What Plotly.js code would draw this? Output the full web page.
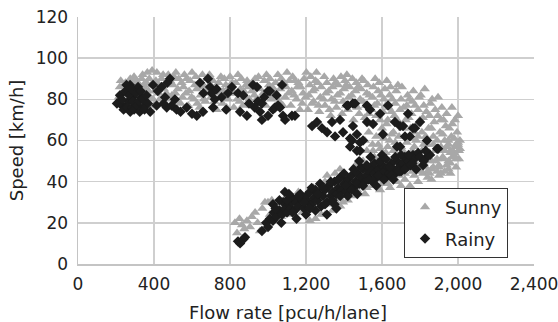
<!DOCTYPE html>
<html>
<head>
<meta charset="utf-8">
<script src="https://cdn.plot.ly/plotly-3.0.1.min.js"></script>
<style>html,body{margin:0;padding:0;background:#fff;}#chart{width:558px;height:322px;}</style>
</head>
<body>
<div id="chart"></div>
<script>
// [flow rate (pcu/h/lane), speed (km/h)]
const sunnyPoints = [
[215,81],[220,86],[225,89],[240,78],[245,84],[250,88],[265,82],[270,85],[275,90],[285,77],[290,86],[295,91],[305,80],[310,84],[315,88],[325,76],[330,83],[335,90],[340,92],[350,79],[355,85],[360,88],[365,93],[380,81],[385,87],[390,94],[400,77],[405,84],[410,89],[415,93],[430,80],[435,86],[440,90],[460,78],[465,83],[470,88],[475,92],[490,76],[495,82],[500,87],[505,91],[520,79],[525,85],[530,90],[550,81],[555,86],[560,92],[580,77],[585,84],[590,89],[610,80],[615,87],[620,91],[640,76],[645,82],[650,88],[655,92],[670,79],[675,85],[680,90],[700,81],[705,86],[710,89],[730,75],[735,83],[740,88],[760,78],[765,84],[770,90],[790,80],[795,86],[800,91],[820,76],[825,83],[830,88],[850,79],[855,85],[860,90],[880,81],[885,87],[890,89],[910,77],[915,84],[920,88],[940,80],[945,86],[950,91],[970,78],[975,83],[980,89],[1000,82],[1005,87],[1010,90],[1030,76],[1035,84],[1040,88],[1060,79],[1065,85],[1070,90],[1090,81],[1095,86],[1100,93],
[232,83],[258,87],[262,79],[282,83],[300,89],[318,81],[345,87],[372,84],[375,90],[395,80],[422,87],[425,83],[448,92],[452,85],[480,80],[485,89],[512,83],[515,93],[540,78],[545,88],[568,83],[572,90],[598,81],[600,93],[625,85],[628,78],[660,86],[662,80],[690,83],[692,92],[718,79],[720,85],[748,81],[752,91],[778,87],[782,76],[808,83],[812,88],[838,80],[842,92],[868,77],[872,84],[898,86],[902,80],[928,82],[932,90],[958,85],[962,80],[988,77],[992,92],[1018,80],[1022,86],[1048,82],[1052,92],[1078,77],[1082,88],[1108,83],[1112,89],
[1120,77],[1125,84],[1130,91],[1150,80],[1155,86],[1160,88],[1180,78],[1185,83],[1190,90],[1210,75],[1215,82],[1220,87],[1225,91],[1240,79],[1245,85],[1250,89],[1255,93],[1270,74],[1275,81],[1280,86],[1300,77],[1305,83],[1310,88],[1330,72],[1335,80],[1340,86],[1345,90],[1360,76],[1365,82],[1370,87],[1390,73],[1395,79],[1400,85],[1405,89],[1415,92],[1420,75],[1425,81],[1430,86],[1450,70],[1455,78],[1460,84],[1465,88],[1480,73],[1485,80],[1490,85],[1495,90],[1510,71],[1515,77],[1520,83],[1525,87],[1540,68],[1545,75],[1550,81],[1555,86],[1570,72],[1575,78],[1580,84],[1585,88],[1600,66],[1605,74],[1610,80],[1615,85],[1625,89],[1630,70],[1635,76],[1640,82],[1645,86],[1660,64],[1665,72],[1670,78],[1675,84],[1690,68],[1695,75],[1700,80],[1705,86],[1720,62],[1725,70],[1730,77],[1735,82],[1750,66],[1755,73],[1760,79],[1765,84],[1780,60],[1785,68],[1790,75],[1795,81],[1810,64],[1815,71],[1820,77],[1825,85],[1840,58],[1845,66],[1850,72],[1855,78],[1870,62],[1875,69],[1880,75],[1895,81],[1900,56],[1905,64],[1910,70],[1915,76],[1930,60],[1935,67],[1940,73],[1960,54],[1965,62],[1968,76],[1970,68],[1990,58],[1995,64],[2000,72],[2005,55],[2010,60],
[1138,82],[1142,89],[1168,75],[1172,86],[1198,81],[1202,93],[1232,78],[1236,84],[1262,88],[1266,77],[1292,80],[1296,91],[1320,84],[1324,75],[1352,79],[1356,88],[1380,83],[1384,91],[1410,77],[1412,87],[1440,82],[1444,90],[1470,76],[1474,86],[1500,79],[1504,89],[1530,73],[1534,82],[1560,77],[1564,90],[1590,70],[1594,82],[1620,77],[1624,68],[1650,74],[1654,80],[1680,70],[1684,87],[1710,66],[1714,76],[1740,71],[1744,80],[1770,64],[1774,77],[1800,70],[1804,82],[1830,62],[1834,74],[1860,66],[1864,80],[1890,60],[1894,72],[1920,63],[1924,70],[1950,58],[1954,66],[1980,61],[1984,70],
[1500,50],[1520,55],[1540,45],[1560,52],[1580,58],[1600,48],[1620,54],[1640,60],[1660,46],[1680,52],[1700,57],[1720,44],[1740,50],[1760,55],[1780,47],[1800,53],[1820,58],[1840,45],[1860,50],[1880,55],[1900,47],[1920,52],[1940,57],[1960,49],[1980,54],[2000,58],[1990,51],[1950,46],[1910,44],
[1510,60],[1530,64],[1550,58],[1570,62],[1590,56],[1610,61],[1630,57],[1650,63],[1670,59],[1690,62],[1710,55],[1730,59],[1750,61],[1770,57],[1790,62],[1810,55],[1830,60],[1850,54],[1870,58],[1890,51],[1910,57],[1930,55],[1950,60],[1970,52],[1985,57],[1700,50],[1740,46],[1780,52],[1820,49],[1860,46],[1900,43],[1940,48],[1960,44],[1990,47],[2005,51],[1640,50],[1600,44],[1660,55],[1720,47],
[826,20],[837,15],[863,19],[889,21],[905,18],[932,25],[958,16],[984,30],[995,18],[1000,30],[1037,26],[1050,22],[1080,28],[1100,24],[1126,31],[1140,27],[1168,33],[1180,25],[1200,29],[1220,21],[1230,34],[1250,27],[1270,31],[1290,38],[1311,43],[1320,29],[1340,35],[1353,44],[1370,32],[1379,46],[1395,30],[1410,38],[1420,42],[1440,33],[1460,48],[1470,36],[1490,40],[1510,34],[1530,44],[1550,38],[1553,55],[1570,41],[1590,36],[1610,43],[1630,39],[1642,37],[1660,42],[1680,40],[1700,38],[1720,41],[1747,38],[1770,43],[1790,40],[1816,44],[1840,42],[1870,47],[1900,48],[1921,51],[1950,50],[1974,54],[2000,59],[1985,52],[1930,45],[1860,41],
[1250,22],[1300,24],[1340,26],[1380,28],[1420,31],
[850,22],[875,17],[915,23],[945,20],[970,27],[1010,24],[1020,31],[1060,29],[1070,23],[1090,32],[1110,27],[1150,29],[1160,35],[1190,31],[1210,26],[1240,37],[1260,30],[1280,24],[1300,40],[1330,37],[1360,30],[1390,41],[1400,33],[1430,36],[1450,44],[1480,38],[1500,42],[1520,37],[1540,47],[1560,40],[1580,45],[1600,39],[1620,47],[1650,44],[1670,49],[1690,43],[1710,45],[1730,50],[1760,45],[1780,49],[1800,45],[1830,47],[1850,44],[1880,50],[1890,45],[1960,55],[2010,56]
];
const rainyPoints = [
[205,78],[221,82],[231,77],[247,76],[264,79],[274,87],[288,81],[300,77],[316,86],[335,81],[342,76],[368,78],[395,87],[414,77],[440,86],[458,81],[467,76],[484,90],[493,77],[519,75],[572,76],[625,72],[642,88],[658,74],[684,90],[695,86],[703,83],[711,76],[730,85],[756,81],[789,83],[842,83],[853,74],[889,72],[921,87],[942,86],[947,79],[958,74],[968,78],[968,70],[1000,84],[1000,72],[1010,84],[1026,75],[1037,76],[1053,77],[1063,76],[1074,87],[1079,72],[1090,70],[1126,72],[1142,72],
[230,80],[240,75],[250,84],[255,87],[260,76],[270,82],[275,74],[280,85],[285,76],[290,79],[295,75],[305,83],[310,77],[320,79],[325,74],[330,84],[340,80],[350,75],[360,82],[380,74],[420,84],[450,78],[470,88],[510,80],[540,74],[600,73],[660,83],[720,80],[780,75],[810,86],[870,82],[900,78],[930,76],[980,81],[1045,82],
[1232,67],[1258,69],[1284,66],[1311,64],[1337,69],[1353,62],[1379,70],[1395,64],[1416,77],[1421,77],[1432,57],[1432,61],[1442,60],[1447,78],[1447,67],[1458,78],[1468,63],[1468,55],[1484,55],[1484,59],[1500,60],[1521,77],[1521,69],[1537,75],[1553,68],[1590,73],[1605,63],[1632,77],[1668,69],[1679,57],[1695,67],[1695,57],[1711,67],[1721,62],[1721,50],[1737,73],[1747,62],[1763,66],[1763,53],[1774,66],[1800,69],[1816,48],[1826,51],[1837,60],[1890,56],[1895,56],
[842,11],[853,10],[870,12],[879,13],[968,16],[990,20],[1010,22],[1026,21],[1026,29],[1030,25],[1045,23],[1060,26],[1075,24],[1080,30],[1089,35],[1090,27],[1100,25],[1110,29],[1120,27],[1126,30],[1130,32],[1140,26],[1150,30],[1160,28],[1170,34],[1180,31],[1190,27],[1200,33],[1210,30],[1220,35],[1230,29],[1240,32],[1250,36],[1260,31],[1270,34],[1274,39],[1280,28],[1290,33],[1300,36],[1310,30],[1320,38],[1330,33],[1340,35],[1350,40],[1360,34],[1370,37],[1380,42],[1390,36],[1400,39],[1410,35],[1420,41],[1430,38],[1440,43],[1450,37],[1460,40],[1470,44],[1480,39],[1490,42],[1500,46],[1510,40],[1520,43],[1530,45],[1540,41],[1550,47],[1560,44],[1570,42],[1580,46],[1590,43],[1600,48],[1610,45],[1620,42],[1630,47],[1640,44],[1650,49],[1660,46],[1670,44],[1680,50],[1690,47],[1700,45],[1710,49],[1720,52],[1730,47],[1740,50],[1750,48],[1770,51],[1790,54],[1853,53],[1310,24],[1250,26],[1200,24],[1150,22],[1350,29],[1420,33],[1110,34],[1060,31],[1480,50],[1540,52],[1600,53],
[1000,18],[1040,27],[1070,20],[1100,31],[1130,25],[1160,33],[1190,30],[1220,27],[1230,37],[1260,34],[1290,37],[1300,29],[1330,40],[1340,31],[1370,41],[1380,33],[1400,44],[1410,38],[1440,36],[1450,46],[1470,39],[1490,47],[1500,38],[1520,48],[1530,41],[1550,40],[1560,49],[1580,43],[1590,50],[1610,41],[1620,51],[1640,47],[1650,43],[1670,52],[1690,45],[1700,53],[1720,46],[1740,53],[1760,49],[1780,46],[1800,52],[1820,50],[1830,55],[1660,41],[1570,38],[1470,34],[1360,27]
];
const xTicks = [0, 400, 800, 1200, 1600, 2000, 2400];
const xTickLabels = ['0', '400', '800', '1,200', '1,600', '2,000', '2,400'];
const yTicks = [0, 20, 40, 60, 80, 100, 120];
const xTitle = 'Flow rate [pcu/h/lane]';
const yTitle = 'Speed [km/h]';

const FONT = 'DejaVu Sans, Verdana, sans-serif';
const traces = [
  {
    name: 'Sunny', type: 'scatter', mode: 'markers', legendgroup: 's',
    x: sunnyPoints.map(p => p[0]), y: sunnyPoints.map(p => p[1]),
    marker: {symbol: 'triangle-up', size: 9, color: '#a8a8a8'}
  },
  {
    name: 'Rainy', type: 'scatter', mode: 'markers', legendgroup: 'r',
    x: rainyPoints.map(p => p[0]), y: rainyPoints.map(p => p[1]),
    marker: {symbol: 'diamond', size: 8, color: '#1c1c1c'}
  }
];
const layout = {
  width: 558, height: 322,
  margin: {l: 78, r: 24, t: 17, b: 58},
  paper_bgcolor: '#fff', plot_bgcolor: '#fff',
  font: {family: FONT, size: 17, color: '#222'},
  showlegend: true,
  legend: {
    x: 0.715, y: 0.308, xanchor: 'left', yanchor: 'top',
    traceorder: 'grouped', tracegroupgap: 5,
    entrywidth: 82, entrywidthmode: 'pixels',
    bgcolor: '#fff', bordercolor: '#333', borderwidth: 1,
    font: {family: FONT, size: 18, color: '#222'}
  },
  annotations: [{
    text: xTitle, xref: 'paper', yref: 'paper', x: 0.4605, y: -0.195,
    xanchor: 'center', yanchor: 'middle', showarrow: false,
    font: {family: FONT, size: 18, color: '#222'}
  }],
  xaxis: {
    range: [0, 2400], tickvals: xTicks, ticktext: xTickLabels,
    showgrid: true, gridcolor: '#cfcfcf', gridwidth: 1.5,
    showline: true, linecolor: '#c4c4c4', linewidth: 1.5,
    zeroline: false, ticks: '', ticklabelstandoff: 4, ticklabeloverflow: 'allow',
    tickfont: {family: FONT, size: 17, color: '#222'}
  },
  yaxis: {
    range: [0, 120], tickvals: yTicks,
    showgrid: true, gridcolor: '#cfcfcf', gridwidth: 1.5,
    showline: true, linecolor: '#c4c4c4', linewidth: 1.5,
    zeroline: false, ticks: '', ticklabelstandoff: 5,
    tickfont: {family: FONT, size: 17, color: '#222'},
    title: {text: yTitle, font: {family: FONT, size: 18, color: '#222'}, standoff: 7}
  }
};
Plotly.newPlot('chart', traces, layout, {displayModeBar: false, staticPlot: true});
</script>
</body>
</html>
